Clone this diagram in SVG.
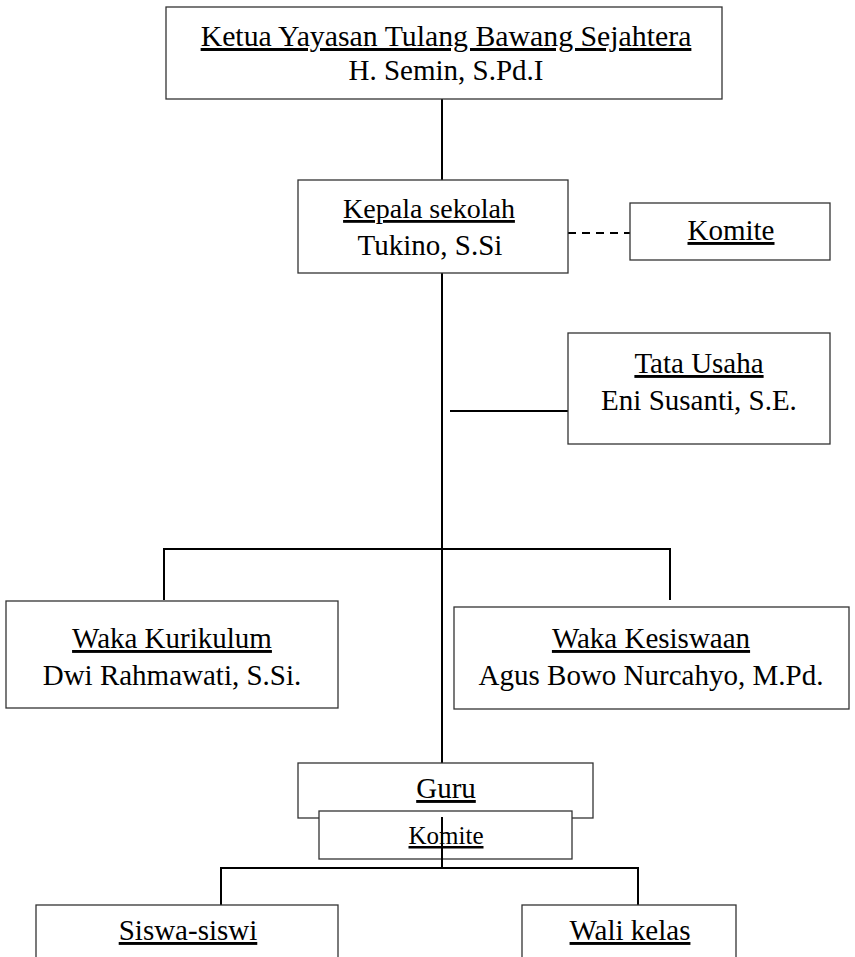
<svg xmlns="http://www.w3.org/2000/svg" width="855" height="957" viewBox="0 0 855 957">
<style>
.box{fill:#fff;stroke:#333;stroke-width:1.3}
.t{font-family:"Liberation Serif","Times New Roman",serif;font-size:29px;fill:#000;text-anchor:middle}
.u{text-decoration:underline}
.s{font-size:25px}
.c{stroke:#000;stroke-width:2;fill:none}
.d{stroke-dasharray:8 6}
</style>
<rect width="855" height="957" fill="#fff"/>
<g id="connectors">
<line class="c" x1="442" y1="99" x2="442" y2="180"/>
<line class="c d" x1="568" y1="233" x2="630" y2="233"/>
<line class="c" x1="442" y1="273" x2="442" y2="763"/>
<line class="c" x1="450" y1="411" x2="568" y2="411"/>
<path class="c" d="M164 600V549H670V600"/>
<path class="c" d="M221 905V868H638V905"/>
</g>
<g id="ketua">
<rect class="box" x="166" y="7" width="556" height="92"/>
<text class="t u" x="446" y="46" style="font-size:29.8px">Ketua Yayasan Tulang Bawang Sejahtera</text>
<text class="t" x="446" y="80">H. Semin, S.Pd.I</text>
</g>
<g id="kepala">
<rect class="box" x="298" y="180" width="270" height="93"/>
<text class="t u" x="429" y="218" style="font-size:28px">Kepala sekolah</text>
<text class="t" x="430" y="255">Tukino, S.Si</text>
</g>
<g id="komite1">
<rect class="box" x="630" y="203" width="200" height="57"/>
<text class="t u" x="731" y="240">Komite</text>
</g>
<g id="tatausaha">
<rect class="box" x="568" y="333" width="262" height="111"/>
<text class="t u" x="699" y="373">Tata Usaha</text>
<text class="t" x="699" y="410">Eni Susanti, S.E.</text>
</g>
<g id="wakakurikulum">
<rect class="box" x="6" y="601" width="332" height="107"/>
<text class="t u" x="172" y="648">Waka Kurikulum</text>
<text class="t" x="172" y="685">Dwi Rahmawati, S.Si.</text>
</g>
<g id="wakakesiswaan">
<rect class="box" x="454" y="607" width="395" height="102"/>
<text class="t u" x="651" y="648">Waka Kesiswaan</text>
<text class="t" x="651" y="685">Agus Bowo Nurcahyo, M.Pd.</text>
</g>
<g id="guru">
<rect class="box" x="298" y="763" width="295" height="55"/>
<text class="t u" x="446" y="798">Guru</text>
</g>
<g id="komite2">
<rect class="box" x="319" y="811" width="253" height="48"/>
<text class="t u s" x="446" y="844">Komite</text>
</g>
<line class="c" x1="442" y1="817" x2="442" y2="868"/>
<g id="siswa">
<rect class="box" x="36" y="905" width="302" height="60"/>
<text class="t u" x="188" y="940">Siswa-siswi</text>
</g>
<g id="walikelas">
<rect class="box" x="522" y="905" width="214" height="60"/>
<text class="t u" x="630" y="940">Wali kelas</text>
</g>
</svg>
